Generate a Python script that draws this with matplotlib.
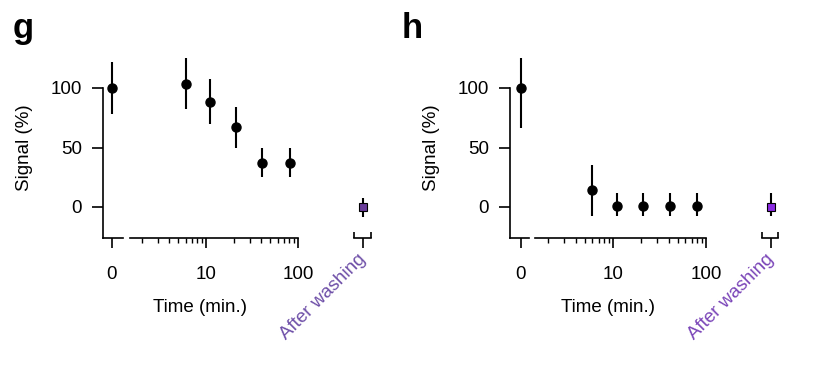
import numpy as np
import matplotlib
matplotlib.use("Agg")
import matplotlib.pyplot as plt
from matplotlib.ticker import FixedLocator, NullFormatter

plt.rcParams["font.family"] = ["Liberation Sans", "DejaVu Sans"]
plt.rcParams["font.size"] = 13.5

# ---- data ----
times = [6, 11, 21, 41, 81]

g_zero = 100
g_zero_lo, g_zero_hi = 78, 122
g_vals = [103, 88.5, 67, 37, 37]
g_lo = [82, 70, 50, 25, 25]
g_hi = [125, 107.5, 84, 49.5, 49.5]
g_wash, g_wash_lo, g_wash_hi = 0, -8, 7.5

h_zero = 100
h_zero_lo, h_zero_hi = 66, 125.5
h_vals = [14, 1, 1, 1, 1]
h_lo = [-7.5, -7.5, -7.5, -7.5, -7.5]
h_hi = [35, 12, 12, 12, 12]
h_wash, h_wash_lo, h_wash_hi = 0, -7.5, 12

yticks = [0, 50, 100]
ylim = (-26, 130)

W, H = 828, 368
fig = plt.figure(figsize=(W / 100, H / 100), dpi=100)

# pixel positions: 0 at y=207, 100 at y=88
y_px0, y_scale = 207, 1.19
bot_px = y_px0 - ylim[0] * y_scale
top_px = y_px0 - ylim[1] * y_scale


def px_axes(l, r):
    return fig.add_axes([l / W, 1 - bot_px / H, (r - l) / W, (bot_px - top_px) / H])


def err(v, lo, hi):
    v = np.atleast_1d(v)
    return [v - np.atleast_1d(lo), np.atleast_1d(hi) - v]


def style(ax):
    for s in ["top", "right", "left"]:
        ax.spines[s].set_visible(False)
    ax.spines["bottom"].set_linewidth(1.2)
    ax.tick_params(axis="x", which="major", length=7.5, width=1.2, pad=13)
    ax.tick_params(axis="x", which="minor", length=3.5, width=1.0)
    ax.set_ylim(*ylim)
    ax.set_yticks([])
    ax.patch.set_visible(False)


def panel(letter, letter_x, xs, zero, zlo, zhi, vals, lo, hi, wash, wlo, whi,
          sq_color, txt_color):
    x_spine, x_zero_end, x0, x_log_l, x_log_r, lmin, w_l, w_r, w0 = xs

    # zero segment with y-axis
    ax0 = px_axes(x_spine, x_zero_end)
    style(ax0)
    ax0.spines["left"].set_visible(True)
    ax0.spines["left"].set_linewidth(1.2)
    ax0.spines["left"].set_bounds(ylim[0], 100)
    span = x_zero_end - x_spine
    ax0.set_xlim(-(x0 - x_spine) / span, (x_zero_end - x0) / span)
    ax0.set_yticks(yticks)
    ax0.tick_params(axis="y", length=8, width=1.2, pad=7)
    ax0.set_xticks([0])
    ax0.errorbar([0], [zero], yerr=err(zero, zlo, zhi), fmt="o", color="black",
                 ms=6.5, elinewidth=1.5, capsize=0, clip_on=False)

    # log time segment
    ax1 = px_axes(x_log_l, x_log_r)
    style(ax1)
    ax1.set_xscale("log")
    ax1.set_xlim(lmin, 100)
    ax1.xaxis.set_major_locator(FixedLocator([10, 100]))
    ax1.set_xticklabels(["10", "100"])
    minors = [m * d for d in (1, 10) for m in range(2, 10) if m * d >= lmin]
    ax1.xaxis.set_minor_locator(FixedLocator(minors))
    ax1.xaxis.set_minor_formatter(NullFormatter())
    ax1.errorbar(times, vals, yerr=err(vals, lo, hi), fmt="o", color="black",
                 ms=6.5, elinewidth=1.5, capsize=0, clip_on=False)

    # after washing bracket
    ax2 = px_axes(w_l, w_r)
    style(ax2)
    wspan = w_r - w_l
    xl, xr = -(w0 - w_l) / wspan, (w_r - w0) / wspan
    ax2.set_xlim(xl, xr)
    ax2.set_xticks([0])
    ax2.set_xticklabels(["After washing"], rotation=45, ha="right", va="center",
                        rotation_mode="anchor", color=txt_color)
    ax2.tick_params(axis="x", which="major", pad=6)
    ax2.xaxis.set_minor_locator(FixedLocator([xl, xr]))
    ax2.tick_params(axis="x", which="minor", direction="in", length=4, width=1.2)
    ax2.errorbar([0], [wash], yerr=err(wash, wlo, whi), fmt="s", color="black",
                 mfc=sq_color, mec="black", mew=0.8, ms=6, elinewidth=1.5,
                 capsize=0, clip_on=False)

    fig.text(((x_spine + x_log_r) / 2) / W, 1 - 308 / H, "Time (min.)",
             ha="center", va="center")
    fig.text((x_spine - 78) / W, 1 - 148 / H, "Signal (%)", rotation=90,
             ha="center", va="center")
    fig.text(letter_x / W, 1 - 12 / H, letter, fontsize=25,
             fontweight="bold", ha="left", va="top")


panel("g", 13, (103, 123, 112, 130, 298, 1.49, 354, 371, 363),
      g_zero, g_zero_lo, g_zero_hi, g_vals, g_lo, g_hi,
      g_wash, g_wash_lo, g_wash_hi, "#6a3d9a", "#6e4fa8")

panel("h", 402, (510, 529, 520.7, 535, 706, 1.45, 762, 778, 771),
      h_zero, h_zero_lo, h_zero_hi, h_vals, h_lo, h_hi,
      h_wash, h_wash_lo, h_wash_hi, "#8a2be2", "#7a45b8")

fig.savefig("out.png", dpi=100)
